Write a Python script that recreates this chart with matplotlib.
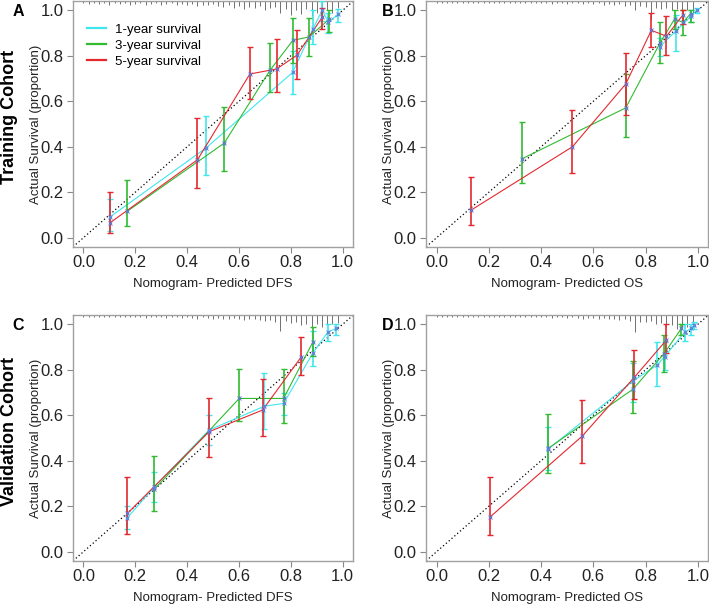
import numpy as np
import matplotlib.pyplot as plt
from matplotlib.lines import Line2D

plt.rcParams['font.family'] = ['Liberation Sans', 'DejaVu Sans']

CYAN = '#3FE6EE'
GREEN = '#30BB30'
RED = '#E4282E'
labels = ['1-year survival', '3-year survival', '5-year survival']

# ---- panel A: training, DFS ----
a1_x = [0.103, 0.472, 0.807, 0.885, 0.921, 0.945, 0.982]
a1_y = [0.092, 0.394, 0.727, 0.918, 1.0, 0.947, 0.983]
a1_lo = [0.03, 0.275, 0.63, 0.853, 0.955, 0.90, 0.95]
a1_hi = [0.17, 0.535, 0.82, 1.0, 1.04, 0.99, 1.005]
a3_x = [0.17, 0.543, 0.72, 0.808, 0.87, 0.947]
a3_y = [0.117, 0.416, 0.737, 0.868, 0.883, 0.96]
a3_lo = [0.05, 0.295, 0.64, 0.77, 0.80, 0.905]
a3_hi = [0.255, 0.575, 0.855, 0.965, 0.968, 1.0]
a5_x = [0.103, 0.44, 0.642, 0.745, 0.824, 0.921]
a5_y = [0.066, 0.343, 0.72, 0.742, 0.803, 0.97]
a5_lo = [0.02, 0.22, 0.61, 0.64, 0.70, 0.92]
a5_hi = [0.20, 0.525, 0.84, 0.875, 0.915, 1.01]
a_rug = [0.01, 0.012, 0.008, 0.012, 0.01, 0.015, 0.008, 0.012, 0.01, 0.015,
         0.012, 0.01, 0.015, 0.012, 0.01, 0.018, 0.012, 0.01, 0.015, 0.012,
         0.015, 0.012, 0.02, 0.015, 0.018, 0.012, 0.02, 0.025, 0.015, 0.03,
         0.02, 0.035, 0.025, 0.03, 0.02, 0.04, 0.03, 0.025, 0.05, 0.035,
         0.06, 0.04, 0.055, 0.035, 0.065, 0.05, 0.06, 0.04, 0.05, 0.03]

# ---- panel B: training, OS ----
b1_x = [0.855, 0.915, 0.975, 0.995]
b1_y = [0.84, 0.908, 0.975, 1.0]
b1_lo = [0.80, 0.82, 0.95, 0.99]
b1_hi = [0.88, 0.98, 1.0, 1.01]
b3_x = [0.327, 0.724, 0.855, 0.911, 0.943, 0.972]
b3_y = [0.347, 0.571, 0.856, 0.962, 0.947, 0.985]
b3_lo = [0.24, 0.443, 0.77, 0.92, 0.89, 0.95]
b3_hi = [0.51, 0.72, 0.95, 1.0, 1.0, 1.0]
b5_x = [0.133, 0.52, 0.724, 0.822, 0.88, 0.943]
b5_y = [0.122, 0.40, 0.676, 0.912, 0.886, 0.98]
b5_lo = [0.055, 0.283, 0.54, 0.84, 0.805, 0.94]
b5_hi = [0.268, 0.56, 0.813, 0.99, 0.977, 1.0]
b_rug = [0.008, 0.01, 0.006, 0.01, 0.008, 0.006, 0.01, 0.008, 0.006, 0.01,
         0.008, 0.006, 0.01, 0.008, 0.006, 0.01, 0.008, 0.01, 0.006, 0.008,
         0.01, 0.008, 0.012, 0.008, 0.01, 0.012, 0.008, 0.01, 0.012, 0.01,
         0.012, 0.01, 0.015, 0.012, 0.015, 0.012, 0.02, 0.015, 0.04, 0.02,
         0.025, 0.08, 0.03, 0.035, 0.03, 0.04, 0.035, 0.045, 0.04, 0.05]

# ---- panel C: validation, DFS ----
c1_x = [0.17, 0.273, 0.485, 0.698, 0.772, 0.884, 0.942, 0.974]
c1_y = [0.15, 0.285, 0.535, 0.64, 0.652, 0.872, 0.965, 0.982]
c1_lo = [0.10, 0.22, 0.47, 0.54, 0.60, 0.815, 0.925, 0.955]
c1_hi = [0.20, 0.35, 0.60, 0.785, 0.70, 0.97, 1.0, 1.0]
c3_x = [0.273, 0.601, 0.772, 0.884]
c3_y = [0.274, 0.674, 0.674, 0.92]
c3_lo = [0.18, 0.575, 0.565, 0.86]
c3_hi = [0.42, 0.805, 0.805, 0.99]
c5_x = [0.17, 0.485, 0.691, 0.839]
c5_y = [0.169, 0.528, 0.623, 0.855]
c5_lo = [0.08, 0.415, 0.51, 0.775]
c5_hi = [0.33, 0.675, 0.76, 0.945]
c_rug = [0.008, 0.01, 0.008, 0.006, 0.01, 0.008, 0.01, 0.006, 0.008, 0.01,
         0.01, 0.008, 0.012, 0.01, 0.008, 0.01, 0.012, 0.008, 0.01, 0.012,
         0.01, 0.012, 0.015, 0.01, 0.012, 0.015, 0.012, 0.015, 0.018, 0.012,
         0.015, 0.02, 0.018, 0.015, 0.02, 0.025, 0.02, 0.03, 0.07, 0.025,
         0.035, 0.03, 0.045, 0.04, 0.055, 0.04, 0.05, 0.045, 0.04, 0.035]

# ---- panel D: validation, OS ----
d1_x = [0.428, 0.751, 0.844, 0.873, 0.949, 0.975, 0.987]
d1_y = [0.452, 0.75, 0.821, 0.858, 0.965, 0.982, 0.997]
d1_lo = [0.36, 0.66, 0.73, 0.80, 0.925, 0.955, 0.98]
d1_hi = [0.55, 0.83, 0.92, 0.92, 1.0, 1.0, 1.01]
d3_x = [0.428, 0.751, 0.87, 0.937]
d3_y = [0.455, 0.714, 0.87, 0.982]
d3_lo = [0.345, 0.61, 0.79, 0.955]
d3_hi = [0.605, 0.84, 0.955, 1.0]
d5_x = [0.206, 0.558, 0.757, 0.88]
d5_y = [0.154, 0.509, 0.767, 0.931]
d5_lo = [0.075, 0.39, 0.67, 0.875]
d5_hi = [0.33, 0.665, 0.885, 1.0]
d_rug = [0.008, 0.006, 0.01, 0.008, 0.006, 0.01, 0.008, 0.006, 0.01, 0.008,
         0.006, 0.01, 0.008, 0.01, 0.006, 0.008, 0.01, 0.008, 0.006, 0.01,
         0.01, 0.008, 0.012, 0.01, 0.008, 0.012, 0.01, 0.012, 0.015, 0.012,
         0.012, 0.015, 0.012, 0.018, 0.015, 0.02, 0.018, 0.025, 0.075, 0.03,
         0.03, 0.025, 0.04, 0.035, 0.05, 0.045, 0.06, 0.055, 0.05, 0.04]

panels = [
    ('A', [0.103, 0.592, 0.395, 0.406], 'DFS',
     [(a1_x, a1_y, a1_lo, a1_hi), (a3_x, a3_y, a3_lo, a3_hi), (a5_x, a5_y, a5_lo, a5_hi)], a_rug),
    ('B', [0.601, 0.592, 0.398, 0.406], 'OS',
     [(b1_x, b1_y, b1_lo, b1_hi), (b3_x, b3_y, b3_lo, b3_hi), (b5_x, b5_y, b5_lo, b5_hi)], b_rug),
    ('C', [0.103, 0.073, 0.395, 0.406], 'DFS',
     [(c1_x, c1_y, c1_lo, c1_hi), (c3_x, c3_y, c3_lo, c3_hi), (c5_x, c5_y, c5_lo, c5_hi)], c_rug),
    ('D', [0.601, 0.073, 0.398, 0.406], 'OS',
     [(d1_x, d1_y, d1_lo, d1_hi), (d3_x, d3_y, d3_lo, d3_hi), (d5_x, d5_y, d5_lo, d5_hi)], d_rug),
]
colors = [CYAN, GREEN, RED]
rug_x = np.linspace(0.0, 0.98, 50)
ticks = [0.0, 0.2, 0.4, 0.6, 0.8, 1.0]
tick_labels = ['0.0', '0.2', '0.4', '0.6', '0.8', '1.0']

fig = plt.figure(figsize=(7.09, 6.05), dpi=100)

for letter, rect, outcome, series, rug in panels:
    ax = fig.add_axes(rect)
    ax.set_xlim(-0.04, 1.04)
    ax.set_ylim(-0.04, 1.04)
    # rug of predicted values hanging from the top
    ax.vlines(rug_x, 1.04 - np.array(rug), 1.04, color='#707070', lw=0.7, zorder=1)
    ax.plot([-0.04, 1.04], [-0.04, 1.04], ls=(0, (1, 2)), color='black', lw=0.9, zorder=2)
    for (x, y, lo, hi), col in zip(series, colors):
        x = np.array(x); y = np.array(y)
        ax.plot(x, y, color=col, lw=0.8, zorder=3)
        ax.errorbar(x, y, yerr=[y - np.array(lo), np.array(hi) - y], fmt='none',
                    ecolor=col, elinewidth=1.2, capsize=2, capthick=1.0, zorder=3)
        ax.plot(x, y, 'o', color=col, ms=2.0, mec='#444444', mew=0.3, zorder=4)
        ax.plot(x, y, 'x', color='#6680ee', ms=3.0, mew=0.7, zorder=5)
    ax.set_xticks(ticks)
    ax.set_yticks(ticks)
    ax.set_xticklabels(tick_labels)
    ax.set_yticklabels(tick_labels)
    ax.tick_params(direction='out', length=4, width=0.8, color='#888888',
                   labelsize=12, labelcolor='#222222')
    ax.tick_params(axis='x', pad=2)
    ax.tick_params(axis='y', pad=3)
    for s in ax.spines.values():
        s.set_color('#a0a0a0')
        s.set_linewidth(1.0)
    ax.set_xlabel('Nomogram- Predicted ' + outcome, fontsize=9.5, color='#222222')
    ax.set_ylabel('Actual Survival (proportion)', fontsize=9.5, color='#222222')
    ax.xaxis.set_label_coords(0.5, -0.125)
    ax.yaxis.set_label_coords(-0.11, 0.5)
    fx = 18 / 709 if letter in 'AC' else 388 / 709
    fy = 1 - 11 / 605 if letter in 'AB' else 1 - 325 / 605
    fig.text(fx, fy, letter, fontsize=11.5, fontweight='bold', ha='center', va='center')
    if letter == 'A':
        handles = [Line2D([], [], color=c, lw=1.6) for c in colors]
        ax.legend(handles, labels, loc='upper left', bbox_to_anchor=(0.05, 0.91),
                  frameon=False, borderaxespad=0, borderpad=0, handlelength=1.4,
                  handletextpad=0.7, labelspacing=0.3, fontsize=9.5)

fig.text(0.014, 1 - 117 / 605, 'Training Cohort', rotation=90, fontsize=13,
         fontweight='bold', ha='center', va='center')
fig.text(0.014, 1 - 431 / 605, 'Validation Cohort', rotation=90, fontsize=13,
         fontweight='bold', ha='center', va='center')

fig.savefig('out.png', dpi=100)
